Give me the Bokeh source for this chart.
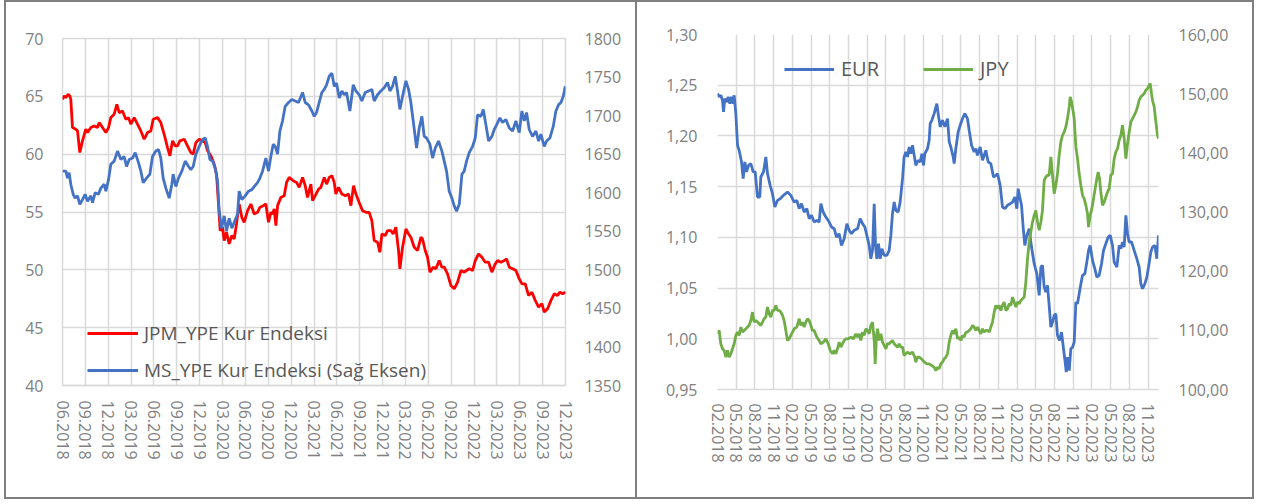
from bokeh.plotting import figure
from bokeh.models import (Range1d, LinearAxis, FixedTicker, CustomJSTickFormatter,
                          Legend, LegendItem)
from bokeh.layouts import row
from bokeh.embed import file_html
from bokeh.resources import INLINE

FONT = "Open Sans"
AXIS_TXT = "#808080"
LEG_TXT = "#595959"
GRID = "#d9d9d9"
FRAME = "2px solid #7f7f7f"

# ---------------- left chart data (x = months since 06.2018) ----------------
left_tick_labels = ["06.2018", "09.2018", "12.2018", "03.2019", "06.2019", "09.2019",
                    "12.2019", "03.2020", "06.2020", "09.2020", "12.2020", "03.2021",
                    "06.2021", "09.2021", "12.2021", "03.2022", "06.2022", "09.2022",
                    "12.2022", "03.2023", "06.2023", "09.2023", "12.2023"]
left_y_ticks = [40, 45, 50, 55, 60, 65, 70]
right_y_ticks_ms = [1350, 1400, 1450, 1500, 1550, 1600, 1650, 1700, 1750, 1800]

jpm_month = [0.00, 0.22, 0.44, 0.74, 0.96, 1.09, 1.31, 1.75, 1.97, 2.27,
             2.62, 3.06, 3.28, 3.72, 4.16, 4.59, 4.81, 5.25, 5.69, 6.04,
             6.34, 6.78, 7.13, 7.44, 7.87, 8.31, 8.66, 8.97, 9.41, 9.84,
             10.28, 10.72, 11.15, 11.59, 11.90, 12.47, 12.90, 13.34, 13.78, 14.09,
             14.44, 14.79, 15.09, 15.40, 15.97, 16.40, 16.84, 17.15, 17.50, 17.94,
             18.37, 18.72, 19.03, 19.47, 19.90, 20.21, 20.47, 20.69, 21.00, 21.22,
             21.52, 21.87, 22.22, 22.53, 22.83, 23.18, 23.53, 23.84, 24.28, 24.72,
             25.15, 25.59, 25.90, 26.33, 26.68, 27.03, 27.34, 27.56, 27.78, 28.00,
             28.22, 28.65, 29.09, 29.40, 29.75, 30.27, 30.71, 31.06, 31.50, 31.85,
             32.15, 32.59, 32.81, 33.16, 33.60, 33.90, 34.34, 34.65, 35.00, 35.35,
             35.65, 35.87, 36.22, 36.66, 37.10, 37.53, 37.84, 38.19, 38.50, 38.93,
             39.37, 39.81, 40.24, 40.59, 40.90, 41.34, 41.64, 41.91, 42.34, 42.65,
             43.09, 43.39, 43.74, 44.09, 44.27, 44.62, 45.06, 45.41, 45.71, 46.15,
             46.59, 47.03, 47.24, 47.59, 47.90, 48.21, 48.64, 48.99, 49.43, 49.78,
             50.09, 50.52, 50.96, 51.40, 51.84, 52.28, 52.71, 53.02, 53.37, 53.81,
             54.16, 54.59, 55.03, 55.47, 55.91, 56.34, 56.78, 57.09, 57.52, 57.96,
             58.27, 58.62, 59.06, 59.49, 59.93, 60.28, 60.72, 61.15, 61.59, 62.03,
             62.47, 62.90, 63.21, 63.65, 64.09, 64.52, 64.96, 65.27, 65.62, 65.97]
jpm_value = [64.74, 65.03, 64.89, 65.17, 65.03, 64.74, 62.30, 62.16, 62.01, 60.14,
             61.15, 62.16, 61.87, 62.30, 62.44, 62.30, 62.73, 62.30, 61.87, 62.30,
             63.16, 63.45, 64.31, 63.59, 63.74, 63.02, 63.16, 62.59, 63.16, 62.59,
             62.01, 61.29, 61.87, 62.01, 63.02, 63.16, 62.73, 61.72, 60.57, 59.86,
             61.15, 60.72, 60.72, 61.15, 61.29, 60.72, 60.14, 60.00, 61.01, 61.29,
             61.15, 61.01, 60.29, 59.86, 59.14, 58.28, 55.69, 53.39, 53.68, 52.53,
             53.25, 52.24, 52.96, 52.67, 53.97, 55.69, 54.54, 54.11, 55.11, 55.69,
             54.83, 54.97, 55.40, 55.55, 55.69, 54.11, 54.97, 54.83, 55.26, 53.82,
             55.55, 56.26, 56.41, 57.56, 57.99, 57.70, 57.56, 57.13, 57.99, 57.27,
             56.26, 57.41, 55.98, 56.41, 56.98, 57.13, 57.99, 57.41, 57.99, 58.13,
             57.56, 56.55, 57.13, 56.55, 56.41, 56.55, 55.55, 57.27, 56.55, 55.83,
             55.11, 54.97, 54.97, 54.25, 52.53, 52.39, 51.52, 53.10, 52.96, 53.39,
             53.39, 53.10, 53.68, 51.67, 50.09, 51.95, 53.53, 53.10, 52.82, 51.95,
             51.67, 52.82, 52.67, 51.67, 51.09, 49.80, 50.23, 50.09, 50.80, 50.23,
             50.23, 49.66, 48.65, 48.36, 48.94, 49.94, 49.80, 49.94, 50.09, 49.94,
             50.80, 51.38, 51.09, 50.66, 50.66, 49.80, 50.52, 50.80, 50.66, 50.80,
             50.95, 50.23, 50.09, 49.94, 49.22, 48.79, 48.79, 47.79, 48.07, 47.36,
             46.78, 47.07, 46.35, 46.64, 47.36, 47.93, 47.79, 48.07, 47.93, 48.07]

ms_month = [0.00, 0.44, 0.66, 0.87, 1.09, 1.40, 1.66, 1.97, 2.27, 2.62,
            2.97, 3.28, 3.72, 3.94, 4.29, 4.72, 5.03, 5.47, 5.69, 6.04,
            6.34, 6.78, 7.22, 7.66, 8.09, 8.40, 8.75, 9.19, 9.54, 9.97,
            10.28, 10.59, 11.02, 11.46, 11.81, 12.25, 12.60, 12.90, 13.21, 13.56,
            14.00, 14.35, 14.52, 14.87, 15.22, 15.66, 16.10, 16.54, 16.84, 17.15,
            17.50, 17.94, 18.37, 18.72, 19.03, 19.34, 19.69, 20.03, 20.34, 20.56,
            20.87, 21.22, 21.52, 21.87, 22.22, 22.66, 22.97, 23.18, 23.53, 23.97,
            24.41, 24.85, 25.15, 25.59, 25.90, 26.25, 26.68, 27.03, 27.34, 27.65,
            27.91, 28.22, 28.52, 28.87, 29.22, 29.66, 30.10, 30.53, 30.97, 31.50,
            31.85, 32.28, 32.72, 33.03, 33.33, 33.68, 34.03, 34.34, 34.65, 35.00,
            35.35, 35.65, 35.96, 36.31, 36.66, 36.96, 37.27, 37.71, 38.15, 38.50,
            38.93, 39.28, 39.72, 40.16, 40.59, 40.90, 41.34, 41.78, 42.21, 42.65,
            42.96, 43.31, 43.66, 43.96, 44.27, 44.62, 45.06, 45.41, 45.71, 46.02,
            46.46, 46.81, 47.16, 47.46, 47.77, 48.21, 48.56, 48.91, 49.34, 49.78,
            50.09, 50.39, 50.74, 51.09, 51.40, 51.71, 52.06, 52.41, 52.71, 53.02,
            53.37, 53.81, 54.16, 54.46, 54.90, 55.21, 55.56, 55.91, 56.34, 56.65,
            56.96, 57.39, 57.74, 58.18, 58.62, 59.06, 59.49, 59.93, 60.28, 60.59,
            60.89, 61.24, 61.68, 62.12, 62.47, 62.77, 63.21, 63.52, 63.96, 64.39,
            64.74, 65.09, 65.40, 65.71, 65.97]
ms_value = [1628, 1628, 1619, 1626, 1611, 1598, 1593, 1596, 1585, 1591,
            1598, 1589, 1596, 1587, 1600, 1598, 1606, 1611, 1602, 1617,
            1637, 1641, 1654, 1643, 1647, 1634, 1643, 1645, 1652, 1639,
            1628, 1613, 1619, 1624, 1647, 1654, 1656, 1645, 1619, 1606,
            1593, 1611, 1624, 1608, 1619, 1628, 1641, 1634, 1630, 1634,
            1650, 1660, 1669, 1671, 1660, 1643, 1641, 1632, 1615, 1576,
            1554, 1570, 1550, 1567, 1554, 1565, 1572, 1602, 1591, 1596,
            1602, 1604, 1608, 1613, 1619, 1628, 1645, 1628, 1647, 1663,
            1660, 1650, 1680, 1693, 1712, 1717, 1721, 1719, 1717, 1730,
            1717, 1714, 1706, 1699, 1704, 1717, 1730, 1734, 1740, 1751,
            1755, 1738, 1742, 1723, 1732, 1727, 1730, 1706, 1740, 1732,
            1727, 1719, 1730, 1732, 1734, 1719, 1727, 1732, 1736, 1743,
            1732, 1738, 1751, 1732, 1708, 1725, 1745, 1734, 1717, 1693,
            1658, 1684, 1699, 1673, 1671, 1663, 1645, 1658, 1667, 1654,
            1641, 1628, 1602, 1593, 1583, 1576, 1585, 1624, 1628, 1641,
            1652, 1660, 1671, 1701, 1699, 1708, 1688, 1667, 1673, 1682,
            1688, 1697, 1691, 1695, 1684, 1680, 1693, 1678, 1706, 1693,
            1704, 1682, 1673, 1680, 1667, 1676, 1660, 1667, 1671, 1686,
            1706, 1714, 1717, 1725, 1738]

# ---------------- right chart data (x = months since 02.2018) ----------------
right_tick_labels = ["02.2018", "05.2018", "08.2018", "11.2018", "02.2019", "05.2019",
                     "08.2019", "11.2019", "02.2020", "05.2020", "08.2020", "11.2020",
                     "02.2021", "05.2021", "08.2021", "11.2021", "02.2022", "05.2022",
                     "08.2022", "11.2022", "02.2023", "05.2023", "08.2023", "11.2023"]
eur_ticks = [0.95, 1.00, 1.05, 1.10, 1.15, 1.20, 1.25, 1.30]
jpy_ticks = [100, 110, 120, 130, 140, 150, 160]

eur_month = [0.00, 0.27, 0.53, 0.80, 0.96, 1.18, 1.50, 1.71, 1.98, 2.24,
             2.51, 2.67, 2.94, 3.21, 3.47, 3.85, 4.11, 4.38, 4.65, 4.97,
             5.34, 5.72, 6.04, 6.41, 6.78, 6.94, 7.37, 7.75, 8.01, 8.44,
             8.81, 9.19, 9.62, 10.04, 10.58, 11.22, 11.75, 12.29, 12.71, 13.09,
             13.46, 13.89, 14.32, 14.69, 15.06, 15.49, 15.92, 16.29, 16.56, 16.93,
             17.36, 17.90, 18.27, 18.70, 19.07, 19.50, 19.87, 20.30, 20.73, 21.10,
             21.47, 21.90, 22.44, 22.86, 23.24, 23.61, 23.93, 24.31, 24.57, 24.84,
             25.11, 25.32, 25.53, 25.80, 26.07, 26.34, 26.71, 27.14, 27.51, 27.78,
             28.04, 28.31, 28.58, 28.95, 29.27, 29.65, 29.91, 30.18, 30.45, 30.72,
             30.98, 31.25, 31.52, 31.78, 32.16, 32.48, 32.75, 33.01, 33.23, 33.65,
             33.92, 34.08, 34.35, 34.72, 35.15, 35.36, 35.68, 36.06, 36.43, 36.86,
             37.13, 37.39, 37.77, 37.93, 38.19, 38.57, 38.89, 39.26, 39.64, 40.06,
             40.33, 40.71, 41.13, 41.40, 41.67, 42.09, 42.47, 42.74, 43.00, 43.38,
             43.80, 44.23, 44.60, 44.87, 45.30, 45.67, 46.05, 46.47, 46.90, 47.28,
             47.65, 47.97, 48.18, 48.50, 48.72, 48.98, 49.25, 49.57, 49.95, 50.32,
             50.75, 51.18, 51.55, 51.82, 52.08, 52.35, 52.62, 52.88, 53.15, 53.42,
             53.69, 53.95, 54.22, 54.49, 54.81, 55.13, 55.45, 55.72, 55.88, 56.09,
             56.36, 56.62, 56.89, 57.16, 57.43, 57.69, 57.96, 58.23, 58.49, 58.87,
             59.19, 59.46, 59.72, 60.10, 60.47, 60.79, 61.16, 61.54, 61.86, 62.23,
             62.61, 62.93, 63.30, 63.57, 64.00, 64.37, 64.64, 64.90, 65.17, 65.44,
             65.71, 65.97, 66.35, 66.77, 67.20, 67.57, 67.84, 68.11, 68.48, 68.80,
             69.07, 69.44, 69.71, 70.09, 70.41, 70.67]
eur_value = [1.2418, 1.2385, 1.2401, 1.2352, 1.2237, 1.2368, 1.2335, 1.2385, 1.2319, 1.2385,
             1.2319, 1.2401, 1.2220, 1.1908, 1.1858, 1.1743, 1.1579, 1.1743, 1.1645, 1.1710,
             1.1727, 1.1645, 1.1645, 1.1398, 1.1398, 1.1595, 1.1645, 1.1793, 1.1628, 1.1513,
             1.1431, 1.1299, 1.1365, 1.1381, 1.1414, 1.1447, 1.1414, 1.1348, 1.1365, 1.1283,
             1.1332, 1.1250, 1.1283, 1.1184, 1.1217, 1.1151, 1.1167, 1.1151, 1.1332, 1.1250,
             1.1200, 1.1151, 1.1102, 1.1085, 1.1003, 1.1036, 1.0921, 1.0987, 1.1135, 1.1069,
             1.1036, 1.1069, 1.1085, 1.1184, 1.1135, 1.1102, 1.1019, 1.0921, 1.0789, 1.0871,
             1.1332, 1.0921, 1.0789, 1.0937, 1.0789, 1.0888, 1.0822, 1.0822, 1.0871, 1.1019,
             1.1233, 1.1348, 1.1266, 1.1250, 1.1348, 1.1579, 1.1793, 1.1842, 1.1793, 1.1891,
             1.1825, 1.1908, 1.1809, 1.1710, 1.1760, 1.1743, 1.1825, 1.1710, 1.1825, 1.1875,
             1.1957, 1.2122, 1.2154, 1.2220, 1.2319, 1.2220, 1.2089, 1.2154, 1.2089, 1.2171,
             1.1941, 1.1891, 1.1793, 1.1727, 1.1875, 1.2039, 1.2105, 1.2171, 1.2220, 1.2171,
             1.2056, 1.1908, 1.1842, 1.1875, 1.1809, 1.1891, 1.1760, 1.1809, 1.1858, 1.1743,
             1.1727, 1.1595, 1.1612, 1.1628, 1.1513, 1.1299, 1.1283, 1.1316, 1.1332, 1.1348,
             1.1398, 1.1283, 1.1480, 1.1381, 1.1316, 1.1102, 1.0921, 1.1019, 1.1085, 1.0904,
             1.0740, 1.0641, 1.0427, 1.0707, 1.0723, 1.0509, 1.0460, 1.0526, 1.0329, 1.0115,
             1.0164, 1.0230, 1.0246, 1.0032, 0.9983, 1.0065, 0.9901, 0.9769, 0.9671, 0.9819,
             0.9687, 0.9901, 0.9917, 0.9967, 1.0361, 1.0345, 1.0444, 1.0542, 1.0625, 1.0641,
             1.0756, 1.0871, 1.0921, 1.0773, 1.0690, 1.0608, 1.0625, 1.0740, 1.0871, 1.0937,
             1.1003, 1.1019, 1.0921, 1.0756, 1.0707, 1.0921, 1.0888, 1.0954, 1.0904, 1.1217,
             1.1036, 1.0954, 1.0954, 1.0871, 1.0789, 1.0707, 1.0542, 1.0493, 1.0542, 1.0608,
             1.0707, 1.0855, 1.0904, 1.0921, 1.0789, 1.1019]

jpy_month = [0.00, 0.27, 0.53, 0.80, 1.07, 1.34, 1.60, 1.87, 2.14, 2.40,
             2.67, 2.94, 3.21, 3.47, 3.74, 4.01, 4.27, 4.54, 4.81, 5.07,
             5.34, 5.61, 5.88, 6.14, 6.41, 6.68, 6.94, 7.21, 7.48, 7.75,
             8.01, 8.28, 8.55, 8.81, 9.08, 9.35, 9.62, 9.88, 10.15, 10.42,
             10.68, 10.95, 11.22, 11.49, 11.75, 12.02, 12.29, 12.71, 13.09, 13.35,
             13.62, 13.89, 14.16, 14.42, 14.69, 14.96, 15.22, 15.49, 15.92, 16.29,
             16.56, 16.99, 17.36, 17.74, 18.06, 18.43, 18.70, 18.96, 19.23, 19.50,
             19.76, 20.03, 20.30, 20.57, 20.94, 21.37, 21.79, 22.17, 22.44, 22.70,
             22.97, 23.24, 23.50, 23.77, 24.04, 24.31, 24.57, 24.84, 25.11, 25.27,
             25.48, 25.64, 25.91, 26.18, 26.44, 26.71, 26.98, 27.24, 27.51, 27.78,
             28.04, 28.31, 28.58, 28.85, 29.11, 29.38, 29.65, 29.91, 30.18, 30.45,
             30.82, 31.25, 31.62, 31.78, 32.05, 32.32, 32.69, 33.12, 33.55, 33.92,
             34.29, 34.72, 34.99, 35.26, 35.52, 35.79, 36.06, 36.32, 36.59, 36.86,
             37.13, 37.39, 37.66, 37.93, 38.19, 38.46, 38.73, 39.00, 39.26, 39.53,
             39.80, 40.06, 40.33, 40.60, 40.87, 41.13, 41.40, 41.67, 41.93, 42.20,
             42.47, 42.74, 43.00, 43.27, 43.54, 43.80, 44.07, 44.34, 44.60, 44.87,
             45.14, 45.41, 45.67, 45.94, 46.21, 46.47, 46.74, 47.01, 47.28, 47.54,
             47.81, 48.08, 48.34, 48.61, 48.88, 49.15, 49.41, 49.68, 49.95, 50.21,
             50.48, 50.75, 51.01, 51.28, 51.55, 51.82, 52.08, 52.35, 52.62, 52.88,
             53.15, 53.42, 53.69, 53.95, 54.22, 54.49, 54.75, 55.02, 55.29, 55.56,
             55.82, 56.09, 56.36, 56.52, 56.73, 57.00, 57.16, 57.43, 57.69, 57.96,
             58.23, 58.49, 58.76, 59.03, 59.29, 59.46, 59.72, 59.99, 60.26, 60.52,
             60.79, 61.00, 61.22, 61.43, 61.70, 61.97, 62.23, 62.50, 62.77, 63.03,
             63.30, 63.57, 63.84, 64.10, 64.37, 64.64, 64.90, 65.17, 65.44, 65.71,
             65.97, 66.24, 66.51, 66.77, 67.04, 67.31, 67.57, 67.84, 68.11, 68.38,
             68.64, 68.91, 69.18, 69.34, 69.55, 69.71, 69.98, 70.25, 70.51, 70.67]
jpy_value = [109.42, 109.98, 107.73, 106.88, 106.60, 105.47, 106.60, 105.47, 106.03, 106.88,
             107.73, 109.14, 109.70, 109.14, 110.55, 109.70, 109.98, 110.26, 110.55, 110.83,
             111.67, 113.08, 111.39, 111.67, 111.39, 111.11, 110.83, 111.39, 111.96, 112.24,
             113.93, 112.80, 112.24, 113.36, 113.36, 114.21, 113.36, 113.36, 113.08, 112.52,
             111.67, 109.98, 108.29, 108.57, 109.14, 109.70, 110.26, 110.55, 111.96, 110.83,
             111.39, 110.55, 111.39, 111.96, 111.67, 110.83, 109.98, 109.98, 108.85, 108.29,
             107.73, 108.01, 108.57, 107.73, 106.60, 106.03, 106.60, 106.03, 106.88, 108.01,
             107.16, 107.73, 108.29, 108.57, 108.57, 108.85, 108.57, 109.42, 108.85, 109.42,
             108.29, 109.70, 109.14, 110.26, 109.98, 109.42, 110.83, 111.39, 108.29, 104.34,
             109.14, 110.26, 108.29, 109.42, 108.01, 107.44, 106.88, 107.73, 107.73, 108.01,
             108.29, 107.73, 107.44, 107.16, 107.73, 107.16, 107.16, 105.75, 106.03, 106.32,
             106.03, 106.32, 105.47, 104.63, 105.47, 105.47, 105.19, 104.63, 104.34, 104.34,
             104.06, 103.78, 103.21, 103.78, 103.50, 104.34, 104.63, 105.19, 105.47, 106.03,
             108.01, 109.14, 109.98, 109.42, 110.26, 108.57, 108.85, 108.29, 109.14, 108.85,
             109.70, 109.70, 109.98, 110.26, 110.83, 110.55, 109.98, 110.55, 109.98, 109.42,
             110.26, 109.70, 109.98, 109.98, 109.70, 110.55, 111.39, 113.08, 114.21, 113.65,
             114.21, 113.36, 114.21, 114.78, 113.36, 113.65, 114.49, 114.21, 115.62, 114.78,
             113.93, 114.78, 114.49, 115.06, 115.34, 115.62, 118.16, 122.11, 124.93, 126.62,
             128.31, 129.44, 130.28, 128.31, 126.90, 128.31, 130.28, 135.36, 135.92, 136.20,
             136.20, 139.30, 136.20, 133.10, 134.51, 136.49, 139.59, 141.84, 142.97, 143.53,
             144.38, 145.79, 147.76, 149.46, 148.61, 146.92, 145.79, 141.00, 139.02, 136.49,
             134.51, 132.82, 132.26, 131.13, 129.72, 127.46, 129.44, 130.56, 132.26, 133.95,
             135.64, 136.77, 135.64, 133.38, 131.13, 131.69, 132.54, 133.38, 133.95, 136.20,
             136.49, 139.02, 140.15, 140.71, 142.12, 142.97, 144.66, 142.41, 139.02, 141.56,
             143.53, 145.23, 145.79, 146.35, 146.92, 147.76, 148.89, 149.46, 149.74, 150.02,
             150.58, 150.86, 151.43, 151.71, 150.02, 148.89, 147.76, 145.23, 142.97, 142.41]

LINE_W = 2.8


def style_axis(ax, size="16px"):
    ax.major_label_text_font = FONT
    ax.major_label_text_font_size = size
    ax.major_label_text_color = AXIS_TXT
    ax.major_tick_line_color = None
    ax.minor_tick_line_color = None
    ax.major_tick_out = 0
    ax.major_tick_in = 0


def x_axis_setup(p, labels, standoff):
    ticks = [3 * i for i in range(len(labels))]
    ax = p.xaxis[0]
    ax.ticker = FixedTicker(ticks=ticks)
    ax.major_label_overrides = {t: lab for t, lab in zip(ticks, labels)}
    ax.major_label_orientation = "vertical"
    ax.major_label_standoff = standoff
    style_axis(ax)
    ax.axis_line_color = GRID
    ax.axis_line_width = 1.5
    p.xgrid.ticker = FixedTicker(ticks=ticks)


# ---------------- left figure ----------------
p1 = figure(width=631, height=499, x_range=Range1d(0, 66), y_range=Range1d(40, 70),
            output_backend="svg", toolbar_location=None,
            min_border_left=56, min_border_right=72, min_border_top=36, min_border_bottom=116,
            background_fill_color="white", border_fill_color="white",
            outline_line_color=GRID, outline_line_width=1.5,
            margin=(0, 0, 0, 4), frame_align=False,
            styles={"border-left": FRAME, "border-top": FRAME, "border-bottom": FRAME})
p1.extra_y_ranges = {"ms": Range1d(1350, 1800)}
p1.add_layout(LinearAxis(y_range_name="ms"), "right")

x_axis_setup(p1, left_tick_labels, 15)
ly = p1.yaxis[0]
ly.ticker = FixedTicker(ticks=left_y_ticks)
style_axis(ly)
ly.axis_line_color = None
ly.major_label_standoff = 19
ry = p1.yaxis[1]
ry.ticker = FixedTicker(ticks=right_y_ticks_ms)
style_axis(ry)
ry.axis_line_color = None
ry.major_label_standoff = 19
for g in (p1.xgrid[0], p1.ygrid[0]):
    g.grid_line_color = GRID
    g.grid_line_width = 1.5
p1.ygrid.ticker = FixedTicker(ticks=left_y_ticks)

r_jpm = p1.line(jpm_month, jpm_value, line_color="#ff0000", line_width=LINE_W)
r_ms = p1.line(ms_month, ms_value, line_color="#4472c4", line_width=LINE_W, y_range_name="ms")

leg1 = Legend(items=[LegendItem(label="JPM_YPE Kur Endeksi", renderers=[r_jpm]),
                     LegendItem(label="MS_YPE Kur Endeksi (Sağ Eksen)", renderers=[r_ms])],
              location=(25, 0), orientation="vertical", padding=0, margin=0, spacing=7,
              glyph_width=51, glyph_height=30, label_height=30, label_standoff=6,
              label_text_font=FONT, label_text_font_size="19px", label_text_color=LEG_TXT,
              border_line_color=None, background_fill_alpha=0)
p1.add_layout(leg1)

# ---------------- right figure ----------------
p2 = figure(width=619, height=499, x_range=Range1d(0, 70.67), y_range=Range1d(0.95, 1.30),
            output_backend="svg", toolbar_location=None,
            min_border_left=80, min_border_right=98, min_border_top=32, min_border_bottom=112,
            background_fill_color="white", border_fill_color="white",
            outline_line_color=None, frame_align=False,
            styles={"border": FRAME})
p2.extra_y_ranges = {"jpy": Range1d(100, 160)}
p2.add_layout(LinearAxis(y_range_name="jpy"), "right")

x_axis_setup(p2, right_tick_labels, 14)
ly2 = p2.yaxis[0]
ly2.ticker = FixedTicker(ticks=eur_ticks)
ly2.formatter = CustomJSTickFormatter(code="return tick.toFixed(2).replace('.', ',');")
style_axis(ly2)
ly2.axis_line_color = None
ly2.major_label_standoff = 20
ry2 = p2.yaxis[1]
ry2.ticker = FixedTicker(ticks=jpy_ticks)
ry2.formatter = CustomJSTickFormatter(code="return tick.toFixed(2).replace('.', ',');")
style_axis(ry2)
ry2.axis_line_color = None
ry2.major_label_standoff = 20
for g in (p2.xgrid[0], p2.ygrid[0]):
    g.grid_line_color = GRID
    g.grid_line_width = 1.5
p2.ygrid.ticker = FixedTicker(ticks=eur_ticks)

r_eur = p2.line(eur_month, eur_value, line_color="#4472c4", line_width=LINE_W)
r_jpy = p2.line(jpy_month, jpy_value, line_color="#70ad47", line_width=LINE_W, y_range_name="jpy")

leg2 = Legend(items=[LegendItem(label="EUR", renderers=[r_eur]),
                     LegendItem(label="JPY", renderers=[r_jpy])],
              location=(67, 307), orientation="horizontal", padding=0, margin=0, spacing=2,
              glyph_width=50, glyph_height=20, label_height=20, label_width=80, label_standoff=7,
              label_text_font=FONT, label_text_font_size="20px", label_text_color=LEG_TXT,
              border_line_color=None, background_fill_alpha=0)
p2.add_layout(leg2)

layout = row(p1, p2)
open("out.html", "w").write(file_html(layout, INLINE))
